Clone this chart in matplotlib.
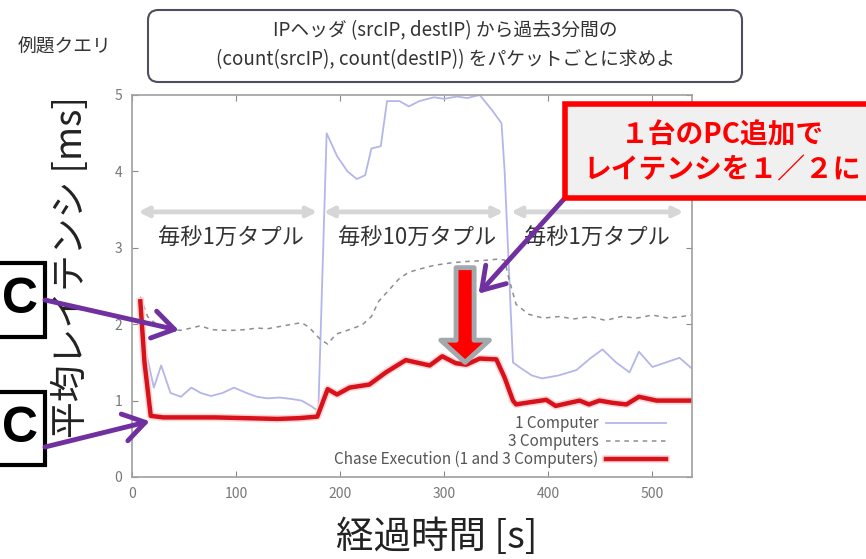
import matplotlib
matplotlib.use("Agg")
import matplotlib.pyplot as plt
import matplotlib.patheffects as pe
from matplotlib.patches import FancyBboxPatch, Rectangle, FancyArrowPatch

plt.rcParams["font.family"] = ["Noto Sans CJK JP", "DejaVu Sans"]

# レイテンシ計測結果 (経過時間 [s], 平均レイテンシ [ms])
one_pc_t = [8, 14, 21, 28, 37, 47, 57, 66, 76, 87, 98, 110, 120, 130, 142, 154,
            163, 173, 179, 187, 197, 207, 216, 224, 230, 239, 245, 257, 266, 276,
            290, 300, 312, 322, 334, 346, 355, 358, 366, 372, 384, 394, 410, 427,
            440, 452, 465, 478, 487, 500, 513, 526, 537]
one_pc_ms = [2.2, 1.6, 1.17, 1.46, 1.1, 1.05, 1.17, 1.1, 1.06, 1.1, 1.17, 1.1,
             1.05, 1.03, 1.04, 1.02, 1.0, 0.92, 0.86, 4.5, 4.2, 4.0, 3.9, 3.95,
             4.3, 4.33, 4.92, 4.92, 4.85, 4.92, 4.97, 4.95, 4.98, 4.96, 5.0, 4.8,
             4.63, 4.0, 1.5, 1.44, 1.33, 1.29, 1.33, 1.4, 1.55, 1.67, 1.5, 1.37,
             1.64, 1.44, 1.5, 1.56, 1.43]

three_pc_t = [8, 15, 25, 35, 47, 57, 66, 76, 87, 98, 110, 120, 130, 142, 154, 163,
              170, 181, 188, 196, 207, 221, 230, 237, 247, 257, 266, 276, 290, 305,
              320, 335, 350, 358, 362, 369, 381, 395, 410, 425, 440, 455, 470, 485,
              500, 515, 528, 537]
three_pc_ms = [2.36, 2.1, 1.98, 1.93, 1.92, 1.95, 1.98, 1.93, 1.92, 1.92, 1.93,
               1.95, 1.94, 1.97, 2.0, 2.02, 1.96, 1.8, 1.74, 1.87, 1.92, 1.99, 2.1,
               2.3, 2.45, 2.6, 2.68, 2.72, 2.77, 2.8, 2.82, 2.83, 2.85, 2.84, 2.6,
               2.26, 2.13, 2.08, 2.1, 2.07, 2.1, 2.05, 2.1, 2.08, 2.12, 2.08, 2.1, 2.12]

chase_t = [8, 12, 18, 30, 50, 80, 110, 140, 160, 178, 188, 197, 209, 228, 244,
           263, 286, 298, 311, 321, 334, 350, 358, 366, 369, 383, 398, 407, 420,
           430, 439, 449, 462, 475, 487, 504, 520, 536]
chase_ms = [2.3, 1.5, 0.8, 0.78, 0.78, 0.78, 0.77, 0.76, 0.77, 0.79, 1.15, 1.08,
            1.17, 1.21, 1.37, 1.53, 1.46, 1.58, 1.49, 1.47, 1.55, 1.54, 1.3, 1.0,
            0.95, 0.98, 1.01, 0.93, 0.97, 1.0, 0.95, 1.0, 0.97, 0.95, 1.05, 1.0,
            1.0, 1.0]

# 入力レートの区間
phase_labels = ["毎秒1万タプル", "毎秒10万タプル", "毎秒1万タプル"]
phase_bounds = [(6, 178), (184, 357), (364, 530)]
phase_label_x = [95, 274, 447]

W, H = 866, 559


def fx(px):
    return px / W


def fy(py):
    return 1 - py / H


fig = plt.figure(figsize=(W / 100, H / 100), dpi=100)
ax = fig.add_axes([fx(132), fy(477), fx(692) - fx(132), fy(95) - fy(477)])
# 矢印を軸ラベルより手前に描くため、軸を前面に出す
ax.set_zorder(5)
ax.patch.set_alpha(0)

ax.plot(one_pc_t, one_pc_ms, color="#b4b6ea", lw=1.3, label="1 Computer")
ax.plot(three_pc_t, three_pc_ms, color="#8e8e8e", lw=1.1, ls=(0, (3, 3)),
        label="3 Computers")
ax.plot(chase_t, chase_ms, color="#d8121a", lw=3.2,
        label="Chase Execution (1 and 3 Computers)",
        path_effects=[pe.Stroke(linewidth=5.5, foreground="#ffd6d8"), pe.Normal()])

ax.set_xlim(0, 538)
ax.set_ylim(0, 5)
ax.set_xticks([0, 100, 200, 300, 400, 500])
ax.set_yticks([0, 1, 2, 3, 4, 5])
ax.tick_params(direction="in", top=True, right=True, colors="#8a8a8a",
               labelcolor="#777777", labelsize=10, length=4, pad=7)
for s in ax.spines.values():
    s.set_color("#a0a0a0")
    s.set_linewidth(1.2)

leg = ax.legend(loc="lower right", bbox_to_anchor=(0.972, -0.005), frameon=False,
                markerfirst=False, fontsize=11, handlelength=3.9,
                labelspacing=0.05, handletextpad=0.5, borderaxespad=0.3)
for txt in leg.get_texts():
    txt.set_color("#555555")

# 区間を示す両矢印とラベル
for (a, b), lab, xc in zip(phase_bounds, phase_labels, phase_label_x):
    ax.annotate("", xy=(a, 3.47), xytext=(b, 3.47),
                arrowprops=dict(arrowstyle="<->", color="#d6d6d6", lw=3.5,
                                mutation_scale=14, shrinkA=0, shrinkB=0))
    ax.text(xc, 3.12, lab, ha="center", va="center", fontsize=16, color="#333333")

# 半減を示す下向き矢印
down = FancyArrowPatch((320, 2.74), (320, 1.5),
                       arrowstyle="simple,head_length=1.6,head_width=3.5,tail_width=1.3",
                       mutation_scale=10, fc="#ff0000", ec="#a3a8ad", lw=3.5,
                       shrinkA=0, shrinkB=0, zorder=5)
ax.add_patch(down)

# 軸ラベル
fig.text(fx(72), fy(267), "平均レイテンシ [ms]", rotation=90, ha="center",
         va="center", fontsize=26.5, color="#222222")
fig.text(fx(437), fy(538), "経過時間 [s]", ha="center", va="center", fontsize=27,
         color="#222222")

# クエリの説明
fig.text(fx(65), fy(47), "例題クエリ", ha="center", va="center", fontsize=13.5,
         color="#333333")
qbox = FancyBboxPatch((fx(148), fy(82)), fx(742) - fx(148), fy(10) - fy(82),
                      boxstyle="round,pad=0,rounding_size=0.012",
                      transform=fig.transFigure, fc="white", ec="#4e4e5e", lw=1.5,
                      mutation_aspect=1.5)
fig.add_artist(qbox)
fig.text(fx(445), fy(31), "IPヘッダ (srcIP, destIP) から過去3分間の", ha="center",
         va="center", fontsize=13.5, color="#333333")
fig.text(fx(445), fy(60), "(count(srcIP), count(destIP)) をパケットごとに求めよ",
         ha="center", va="center", fontsize=13.5, color="#333333")

# 吹き出し
cbox = Rectangle((fx(565), fy(198)), fx(900) - fx(565), fy(104) - fy(198),
                 transform=fig.transFigure, fc="#f0f0f0", ec="#ff0000", lw=4,
                 zorder=10)
fig.add_artist(cbox)
fig.text(fx(722), fy(135), "１台のPC追加で", ha="center", va="center",
         fontsize=20, fontweight="bold", color="#ff0000", zorder=11)
fig.text(fx(722), fy(170), "レイテンシを１／２に", ha="center", va="center",
         fontsize=20, fontweight="bold", color="#ff0000", zorder=11)

# 左側のラベル枠
for top, bot in [(263, 337), (392, 465)]:
    r = Rectangle((fx(-60), fy(bot)), fx(45) - fx(-60), fy(top) - fy(bot),
                  transform=fig.transFigure, fc="white", ec="black", lw=3)
    fig.add_artist(r)
    fig.text(fx(20), fy((top + bot) / 2), "C", ha="center", va="center",
             fontsize=36, fontweight="bold", color="black", family="Liberation Sans")

purple = "#7030a0"
arrow_kw = dict(arrowstyle="->,head_length=0.7,head_width=0.45", color=purple,
                lw=3.5, mutation_scale=22, shrinkA=0, shrinkB=0)
ax.annotate("", xy=(45, 1.92), xytext=(45, H - 300),
            xycoords="data", textcoords="figure pixels", arrowprops=arrow_kw,
            annotation_clip=False)
ax.annotate("", xy=(17, 0.73), xytext=(45, H - 447),
            xycoords="data", textcoords="figure pixels", arrowprops=arrow_kw,
            annotation_clip=False)
ax.annotate("", xy=(333, 2.4), xytext=(564, H - 199),
            xycoords="data", textcoords="figure pixels", arrowprops=arrow_kw,
            annotation_clip=False)

fig.savefig("out.png", dpi=100)
